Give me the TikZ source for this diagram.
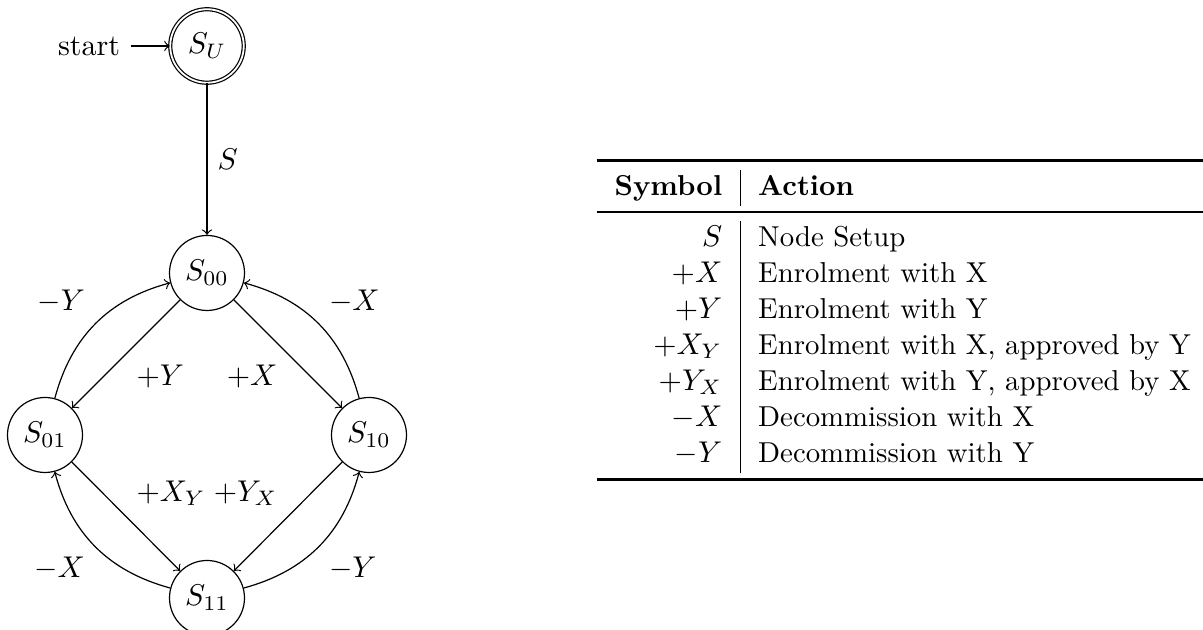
\documentclass[tikz,border=0pt]{standalone}
\usepackage{booktabs}
\begin{document}
\begin{tikzpicture}[x=0.33333pt, y=0.33333pt,
  stt/.style={circle, draw, line width=0.4pt, minimum size=25pt, inner sep=0pt},
  acc/.style={double, minimum size=24.5pt},
  legendbox/.style={anchor=north west, inner sep=0pt, font=\fontsize{9.6}{12}\selectfont}]
  \clip (0,0) rectangle (1203,630);

  % states
  \node[stt, acc] (SU)  at (207,584) {$S_U$};
  \node[stt]      (S00) at (207,357) {$S_{00}$};
  \node[stt]      (S01) at (45,195)  {$S_{01}$};
  \node[stt]      (S10) at (369,195) {$S_{10}$};
  \node[stt]      (S11) at (207,32)  {$S_{11}$};
  \node           (start) at (89,584) {start};

  % transitions
  \draw[->] (start) -- (SU);
  \draw[->] (SU)  -- node[auto] {$S$} (S00);
  \draw[->] (S00) -- node[auto] {$+Y$} (S01);
  \draw[->] (S00) -- node[auto, swap] {$+X$} (S10);
  \draw[->] (S01) -- node[auto] {$+X_Y$} (S11);
  \draw[->] (S10) -- node[auto, swap] {$+Y_X$} (S11);
  \draw[->] (S01) to[bend left]  node[auto] {$-Y$} (S00);
  \draw[->] (S10) to[bend right] node[auto, swap] {$-X$} (S00);
  \draw[->] (S11) to[bend left]  node[auto] {$-X$} (S01);
  \draw[->] (S11) to[bend right] node[auto, swap] {$-Y$} (S10);

  % legend of the transition symbols
  \node[legendbox] (legend) at (596,471.2) {%
    \begin{tabular}{r|l}
      \toprule
      \textbf{Symbol} & \textbf{Action} \\
      \midrule
      $S$ & Node Setup \\
      $+X$ & Enrolment with X \\
      $+Y$ & Enrolment with Y \\
      $+X_Y$ & Enrolment with X, approved by Y \\
      $+Y_X$ & Enrolment with Y, approved by X \\
      $-X$ & Decommission with X \\
      $-Y$ & Decommission with Y \\
      \bottomrule
    \end{tabular}};
\end{tikzpicture}
\end{document}
